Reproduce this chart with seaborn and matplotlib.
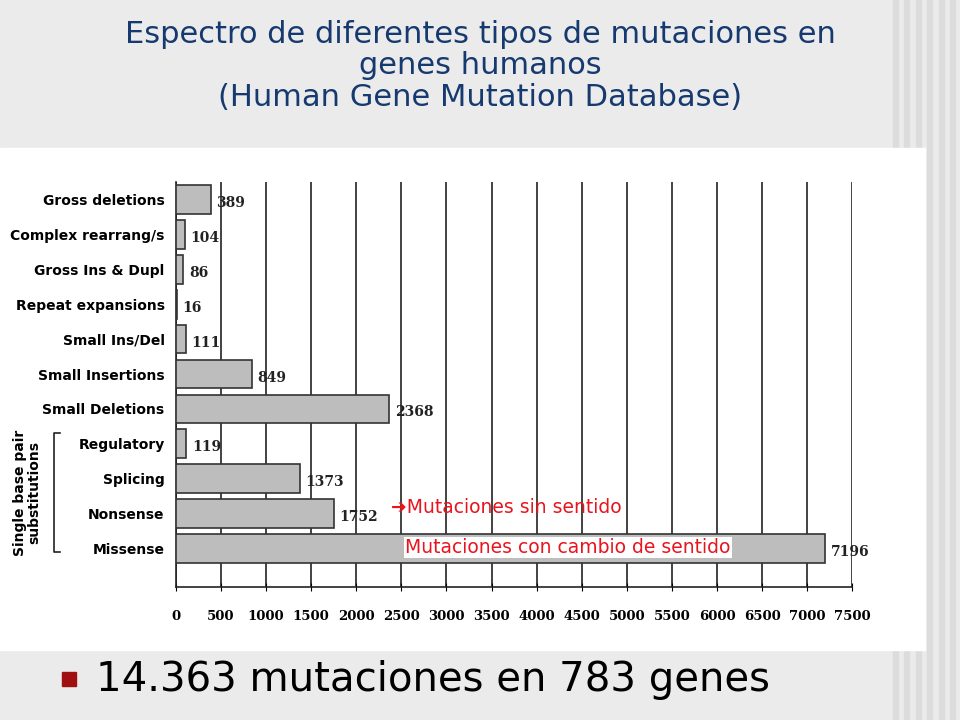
import numpy as np
import pandas as pd
import seaborn as sea
import matplotlib.pyplot as plt
from matplotlib.patches import Rectangle

categories = ["Gross deletions", "Complex rearrang/s", "Gross Ins & Dupl",
              "Repeat expansions", "Small Ins/Del", "Small Insertions",
              "Small Deletions", "Regulatory", "Splicing", "Nonsense", "Missense"]
counts = [389, 104, 86, 16, 111, 849, 2368, 119, 1373, 1752, 7196]
xticks = list(range(0, 7501, 500))

df = pd.DataFrame({"cat": categories, "n": counts})

fig = plt.figure(figsize=(9.6, 7.2), dpi=100)
fig.patch.set_facecolor("#ebebeb")
# faint vertical stripes of the slide background
for x0 in np.arange(0.93, 1.0, 0.012):
    fig.patches.append(Rectangle((x0, 0), 0.005, 1, transform=fig.transFigure,
                                 color="#dcdcdc", zorder=0))
fig.patches.append(Rectangle((0, 0.097), 0.964, 0.697, transform=fig.transFigure,
                             color="white", zorder=1))

ax = fig.add_axes([0.183, 0.185, 0.705, 0.562])
ax.set_zorder(2)
ax.set_facecolor("white")
sea.barplot(data=df, y="cat", x="n", orient="h", color="#bdbdbd",
            edgecolor="#333333", linewidth=1.2, width=0.82, ax=ax, zorder=3)
for i, v in enumerate(counts):
    ax.text(v + 60, i + 0.1, str(v), va="center", ha="left", fontsize=10,
            fontweight="bold", family="DejaVu Serif", color="#222222", zorder=4)

ax.set_xlim(0, 7500)
ax.set_ylim(11.1, -0.5)
ax.set_xticks(xticks)
ax.set_xticklabels([str(t) for t in xticks], fontsize=9.5, fontweight="bold",
                   family="DejaVu Serif")
ax.xaxis.grid(True, color="#222222", linewidth=1.2, zorder=0)
ax.set_axisbelow(True)
ax.tick_params(axis="x", length=6, pad=14, direction="inout")
ax.tick_params(axis="y", length=0, pad=8)
for lab in ax.get_yticklabels():
    lab.set_fontsize(10)
    lab.set_fontweight("bold")
ax.set_xlabel("")
ax.set_ylabel("")
for s in ["top", "right"]:
    ax.spines[s].set_visible(False)
ax.spines["left"].set_color("#222222")
ax.spines["bottom"].set_color("#222222")
ax.spines["left"].set_linewidth(1.2)
ax.spines["bottom"].set_linewidth(1.2)

# bracket for single base pair substitutions
fig.add_artist(plt.Line2D([0.063, 0.056, 0.056, 0.063], [0.399, 0.399, 0.233, 0.233],
                          color="#222222", lw=1.2, transform=fig.transFigure))
fig.text(0.028, 0.316, "Single base pair\nsubstitutions", rotation=90, ha="center",
         va="center", fontsize=10, fontweight="bold", linespacing=1.0)

ax.text(2390, 8.84, "\u2794Mutaciones sin sentido", color="#e8141e", fontsize=13.5,
        va="center", zorder=5)
ax.text(2540, 9.97, "Mutaciones con cambio de sentido", color="#e8141e", fontsize=13.5,
        va="center", zorder=5,
        bbox=dict(facecolor="white", edgecolor="none", pad=1))

fig.text(0.5, 0.972, "Espectro de diferentes tipos de mutaciones en\ngenes humanos\n(Human Gene Mutation Database)",
         ha="center", va="top", fontsize=22, color="#163a70", linespacing=1.1)

fig.patches.append(Rectangle((0.065, 0.047), 0.014, 0.019, transform=fig.transFigure,
                             color="#a01010", zorder=3))
fig.text(0.1, 0.056, "14.363 mutaciones en 783 genes", fontsize=29, va="center",
         color="black")

fig.savefig("out.png", dpi=100, facecolor=fig.get_facecolor())
